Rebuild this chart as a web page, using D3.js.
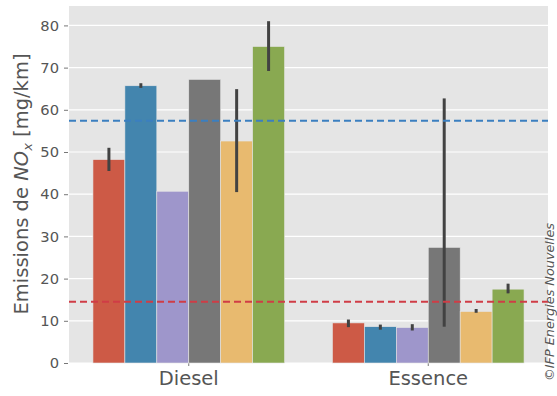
<!DOCTYPE html>
<html>
<head>
<meta charset="utf-8">
<script src="https://cdn.jsdelivr.net/npm/d3@7/dist/d3.min.js"></script>
<style>
  body { margin: 0; background: #fff; }
  svg text { font-family: "DejaVu Sans", sans-serif; fill: #555; }
</style>
</head>
<body>
<div id="chart"></div>
<script>
// data
var categories = ["Diesel", "Essence"];
var series = ["s1", "s2", "s3", "s4", "s5", "s6"];
var colors = ["#CD5A46", "#4385AE", "#9E96CB", "#777777", "#E8BA6F", "#89A951"];
var values = {
  Diesel:  [48.2, 65.7, 40.7, 67.2, 52.6, 75.0],
  Essence: [9.5, 8.6, 8.4, 27.4, 12.2, 17.5]
};
var errLow = {
  Diesel:  [45.5, 65.2, null, null, 40.5, 69.2],
  Essence: [8.5, 7.9, 7.7, 8.6, 11.9, 16.5]
};
var errHigh = {
  Diesel:  [51.0, 66.3, null, null, 64.9, 81.0],
  Essence: [10.3, 9.1, 9.2, 62.7, 12.8, 18.8]
};
var limitDiesel = 57.4;
var limitEssence = 14.5;
var yTicks = [0, 10, 20, 30, 40, 50, 60, 70, 80];

var width = 557, height = 396;
var margin = {left: 69, right: 9, top: 6, bottom: 33};

var svg = d3.select("#chart").append("svg")
  .attr("width", width).attr("height", height);

var x = d3.scaleBand().domain(categories)
  .range([margin.left, width - margin.right]).paddingInner(0.2).paddingOuter(0.1);
var xs = d3.scaleBand().domain(series).range([0, x.bandwidth()]);
var y = d3.scaleLinear().domain([0, 84.6]).range([height - margin.bottom, margin.top]);

svg.append("rect")
  .attr("x", margin.left).attr("y", margin.top)
  .attr("width", width - margin.left - margin.right)
  .attr("height", height - margin.top - margin.bottom)
  .attr("fill", "#E5E5E5");

// grid
svg.selectAll(".grid").data(yTicks).enter().append("line")
  .attr("x1", margin.left).attr("x2", width - margin.right)
  .attr("y1", d => y(d)).attr("y2", d => y(d))
  .attr("stroke", "#fff").attr("stroke-width", 1.2);

// y axis
var yAxis = svg.append("g")
  .attr("transform", "translate(" + margin.left + ",0)")
  .call(d3.axisLeft(y).tickValues(yTicks).tickSize(4).tickPadding(6));
yAxis.select(".domain").remove();
yAxis.selectAll(".tick line").attr("stroke", "#777").attr("transform", "translate(-1,0)");
yAxis.selectAll(".tick text").style("font-size", "14.7px").attr("fill", "#555");

// x axis
var xAxis = svg.append("g")
  .attr("transform", "translate(0," + (height - margin.bottom) + ")")
  .call(d3.axisBottom(x).tickSize(3).tickPadding(5));
xAxis.select(".domain").remove();
xAxis.selectAll(".tick line").attr("stroke", "#777");
xAxis.selectAll(".tick text").style("font-size", "19.5px").attr("fill", "#555");

// bars
var groups = svg.selectAll(".grp").data(categories).enter().append("g")
  .attr("transform", d => "translate(" + x(d) + ",0)");

groups.selectAll("rect").data(c => values[c].map((v, i) => ({c: c, i: i, v: v})))
  .enter().append("rect")
  .attr("x", d => xs(series[d.i]))
  .attr("width", xs.bandwidth())
  .attr("y", d => y(d.v))
  .attr("height", d => y(0) - y(d.v))
  .attr("fill", d => colors[d.i])
  .attr("stroke", "#E5E5E5").attr("stroke-width", 0.6);

// dashed limits
svg.append("line")
  .attr("x1", margin.left).attr("x2", width - margin.right)
  .attr("y1", y(limitDiesel)).attr("y2", y(limitDiesel))
  .attr("stroke", "#3B7FC0").attr("stroke-width", 2).attr("stroke-dasharray", "7,4");
svg.append("line")
  .attr("x1", margin.left).attr("x2", width - margin.right)
  .attr("y1", y(limitEssence)).attr("y2", y(limitEssence))
  .attr("stroke", "#D03C46").attr("stroke-width", 2).attr("stroke-dasharray", "7,4");

// error bars
groups.selectAll(".err").data(c => values[c].map((v, i) => ({lo: errLow[c][i], hi: errHigh[c][i], i: i}))
    .filter(d => d.lo != null))
  .enter().append("line")
  .attr("x1", d => xs(series[d.i]) + xs.bandwidth() / 2)
  .attr("x2", d => xs(series[d.i]) + xs.bandwidth() / 2)
  .attr("y1", d => y(d.lo)).attr("y2", d => y(d.hi))
  .attr("stroke", "#424242").attr("stroke-width", 3);

// y label
svg.append("text")
  .attr("transform", "translate(28,184) rotate(-90)")
  .attr("text-anchor", "middle")
  .style("font-size", "19.5px")
  .html('Emissions de <tspan font-style="italic">NO</tspan><tspan font-style="italic" font-size="13px" dy="4">x</tspan><tspan dy="-4"> [mg/km]</tspan>');

// copyright
svg.append("text")
  .attr("transform", "translate(553.5,302) rotate(-90)")
  .attr("text-anchor", "middle")
  .style("font-size", "12.8px")
  .style("font-style", "italic")
  .attr("fill", "#333")
  .text("©IFP Energies Nouvelles");
</script>
</body>
</html>
